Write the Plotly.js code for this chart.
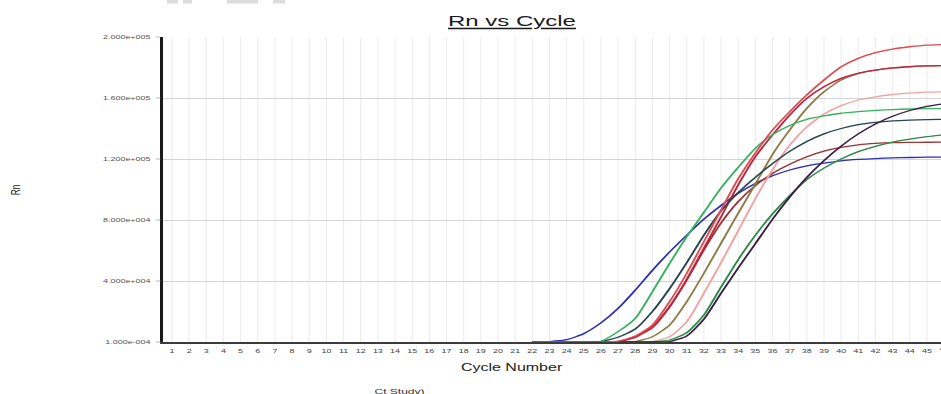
<!DOCTYPE html>
<html><head><meta charset="utf-8">
<script src="https://cdn.plot.ly/plotly-3.0.1.min.js"></script>
<style>
html,body{margin:0;padding:0;overflow:hidden;background:#fff}
#wrap{width:941px;height:394px;overflow:hidden;position:relative}
#plot{width:588px;height:394px;transform:scaleX(1.60034);transform-origin:0 0}
</style></head>
<body><div id="wrap"><div id="plot"></div></div>
<script>
// Cycles shown with data (curves are flat at zero before cycle 22)
const cycles = [22,23,24,25,26,27,28,29,30,31,32,33,34,35,36,37,38,39,40,41,42,43,44,45,46];

const seriesBlue     = [0,300,1500,5500,12500,22000,34000,47000,59000,70000,80500,89500,97500,104000,109000,112800,115500,117300,118800,119700,120300,120700,121000,121200,121300];
const seriesGreen    = [0,0,0,0,500,6800,15500,33000,51500,69000,85000,101000,114500,127000,136000,142000,146000,148200,150000,151000,151900,152400,152800,153000,153100];
const seriesTeal     = [0,0,0,0,300,3100,8500,20000,35000,52000,70000,86000,98000,108000,117000,125000,131500,136500,140000,142500,144000,145000,145500,145800,146000];
const seriesRedTop   = [0,0,0,0,0,500,3900,11100,26400,45000,65800,86600,107000,124000,139000,151000,162000,171800,180500,186000,189700,192100,193600,194700,195100];
const seriesCrimson  = [0,0,0,0,0,300,3000,9500,23000,41000,61500,82000,103000,121500,135700,148800,159800,167400,172900,176200,178300,179700,180500,181000,181200];
const seriesOlive    = [0,0,0,0,0,0,300,3500,11100,26400,45000,64700,84400,103600,123000,139000,153200,164100,171800,176200,178300,179800,180600,181100,181300];
const seriesPink     = [0,0,0,0,0,0,0,300,3500,13300,32000,52000,73000,94000,113000,129000,141000,149500,155000,158700,160800,162300,163200,163800,164100];
const seriesPurple   = [0,0,0,0,0,0,0,0,300,4000,15000,32000,48500,64500,80500,95000,108000,119000,128500,136500,143000,148000,151800,154500,156300];
const seriesDkGreen  = [0,0,0,0,0,0,0,200,1300,6100,17700,36000,54000,70000,84000,96000,106500,114000,120000,124800,128300,131000,133000,134600,135900];
const seriesBrown    = [0,0,0,0,0,300,3500,10000,23200,40700,60300,78000,92000,102500,110500,116500,121500,125200,127700,129300,130200,130700,130900,131000,131100];

const yTickVals = [0.0001, 40000, 80000, 120000, 160000, 200000];
const yTickText = ["1.000e-004","4.000e+004","8.000e+004","1.200e+005","1.600e+005","2.000e+005"];

const curves = [
  {y: seriesBlue,    color: '#2b2fb0'},
  {y: seriesBrown,   color: '#9c3434'},
  {y: seriesPink,    color: '#f0a3a3'},
  {y: seriesOlive,   color: '#8e7b48'},
  {y: seriesCrimson, color: '#c0243e'},
  {y: seriesTeal,    color: '#24474f'},
  {y: seriesGreen,   color: '#36b25c'},
  {y: seriesDkGreen, color: '#2e8a48'},
  {y: seriesPurple,  color: '#3a1e44'},
  {y: seriesRedTop,  color: '#e04a50'}
];

const traces = curves.map(c => ({
  x: cycles, y: c.y, type: 'scatter', mode: 'lines',
  line: {color: c.color, width: 1.3, shape: 'spline', smoothing: 0.6},
  hoverinfo: 'skip', showlegend: false, cliponaxis: true
}));

const F = 'Liberation Sans, Arial, sans-serif';
const W = 588, L = 102, PW = 486, H = 394, T = 37, B = 52, PH = 305, S = 1.60034;
const px2x = px => (px / S - L) / PW;       // reference pixel -> paper x
const py2y = py => (H - B - py) / PH;       // reference pixel -> paper y

const frag = (x0, x1) => ({type: 'rect', xref: 'paper', yref: 'paper',
  x0: px2x(x0), x1: px2x(x1), y0: py2y(3.5), y1: py2y(-1),
  fillcolor: '#dcdcdc', line: {width: 0}});

const layout = {
  width: W, height: H,
  margin: {l: L, r: 0, t: T, b: B, pad: 0},
  paper_bgcolor: '#fff', plot_bgcolor: '#fff',
  font: {family: F, color: '#333'},
  title: {text: '<u>Rn vs Cycle</u>', font: {family: F, size: 15, color: '#1a1a1a'},
          xref: 'container', yref: 'container', x: 512/941, y: 1 - 21/394,
          xanchor: 'center', yanchor: 'middle'},
  xaxis: {
    range: [0.49, 45.82], tick0: 1, dtick: 1, tickmode: 'linear',
    showgrid: true, gridcolor: '#ededed', gridwidth: 0.7,
    zeroline: false, showline: true, linecolor: '#3c3c3c', linewidth: 2,
    ticks: '', tickfont: {family: F, size: 5.6, color: '#444'},
    ticklabelstandoff: 2, fixedrange: true
  },
  yaxis: {
    range: [0, 200000], tickmode: 'array', tickvals: yTickVals, ticktext: yTickText,
    showgrid: true, gridcolor: '#d4d4d4', gridwidth: 1,
    zeroline: false, showline: true, linecolor: '#1a1a1a', linewidth: 1.8,
    ticks: 'outside', ticklen: 3, tickcolor: '#aaa', tickwidth: 0.8,
    tickfont: {family: F, size: 5.6, color: '#555'}, ticklabelstandoff: 2, fixedrange: true
  },
  annotations: [
    {text: 'Cycle Number', xref: 'paper', yref: 'paper', x: px2x(511.5), y: py2y(367),
     xanchor: 'center', yanchor: 'middle', showarrow: false, font: {family: F, size: 10, color: '#222'}},
    {text: 'Rn', xref: 'paper', yref: 'paper', x: px2x(15), y: py2y(190), textangle: -90,
     xanchor: 'center', yanchor: 'middle', showarrow: false, font: {family: F, size: 8.5, color: '#222'}},
    {text: 'Ct Study)', xref: 'paper', yref: 'paper', x: px2x(400), y: py2y(391),
     xanchor: 'center', yanchor: 'middle', showarrow: false, font: {family: F, size: 7.5, color: '#333'}},
    {text: '46', xref: 'paper', yref: 'paper', x: (46 - 0.49) / (45.82 - 0.49), y: py2y(349),
     xanchor: 'center', yanchor: 'middle', showarrow: false, font: {family: F, size: 5.6, color: '#444'}}
  ],
  shapes: [frag(167, 178), frag(183, 192), frag(227, 258), frag(273, 285)]
};

Plotly.newPlot('plot', traces, layout, {staticPlot: true, displayModeBar: false});
</script>
</body></html>
